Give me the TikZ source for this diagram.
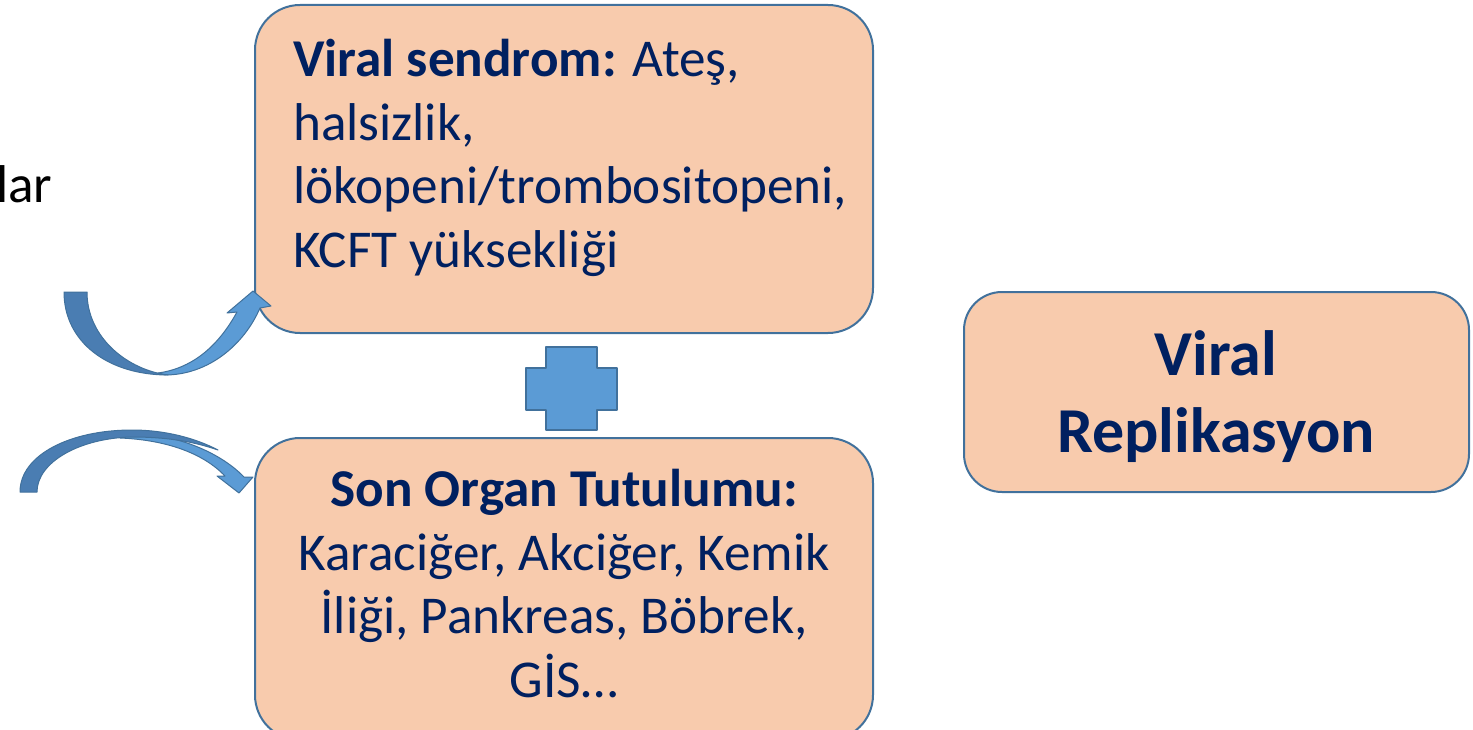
\documentclass[tikz,border=0pt]{standalone}
\usepackage{fontspec}
\setmainfont{Carlito}
\definecolor{boxfill}{HTML}{F8CBAD}
\definecolor{boxline}{HTML}{41719C}
\definecolor{navy}{HTML}{002060}
\definecolor{lightblue}{HTML}{5B9BD5}
\definecolor{darkblue}{HTML}{4A7DB2}
\begin{document}
\begin{tikzpicture}[x=1pt,y=-1pt,
  box/.style={draw=boxline, line width=2pt, fill=boxfill, rounded corners=45pt, inner sep=0pt},
  bodytext/.style={text=navy, font=\fontsize{53.2}{63.5}\selectfont, inner sep=0pt},
  lightpart/.style={fill=lightblue, draw=boxline, line width=1pt, line join=round},
  darkpart/.style={fill=darkblue, draw=boxline, line width=1pt, line join=round}]
\useasboundingbox (0,0) rectangle (1473,730);
% boxes
\node[box, minimum width=618pt, minimum height=328pt] (b1) at (564,169) {};
\node[box, minimum width=618pt, minimum height=302pt] (b2) at (564,589) {};
\node[box, rounded corners=38pt, minimum width=505pt, minimum height=200pt] (b3) at (1216.5,392) {};
% texts
\node[bodytext, anchor=north west, align=left] (t1) at (293,39)
  {\textbf{Viral sendrom:} Ateş,\\halsizlik,\\lökopeni/trombositopeni,\\KCFT yüksekliği};
\node[bodytext, anchor=north, align=center] (t2) at (564,469)
  {\textbf{Son Organ Tutulumu:}\\Karaciğer, Akciğer, Kemik\\İliği, Pankreas, Böbrek,\\GİS…};
\node[text=navy, font=\fontsize{64}{77}\selectfont\bfseries, anchor=north, align=center, inner sep=0pt] (t3) at (1216,330)
  {Viral\\Replikasyon};
\node[text=black, font=\fontsize{53.2}{63.5}\selectfont, anchor=base west, inner sep=0pt] (lar) at (-4,203) {lar};
% plus sign
\draw[lightpart, line width=2pt] (546,347) -- (597,347) -- (597,368) -- (617,368) -- (617,410) -- (597,410)
  -- (597,430) -- (546,430) -- (546,410) -- (526,410) -- (526,368) -- (546,368) -- cycle;
% curved up arrow
\draw[lightpart] (165,375) .. controls (208,375) and (244,345) .. (260,308) -- (271,306) -- (253,291)
  -- (227,313) -- (237,312) .. controls (220,343) and (195,368) .. (158,373) -- cycle;
\draw[darkpart] (64,292) .. controls (64,342) and (108,375) .. (168,375)
  .. controls (128,370) and (87,338) .. (87,292) -- cycle;
% curved down arrow
\draw[lightpart] (120,432) .. controls (170,432) and (218,450) .. (244,477) -- (253,477) -- (239,493)
  -- (217,476) -- (225,476) .. controls (204,454) and (168,440) .. (120,438) -- cycle;
\draw[darkpart] (20,492) .. controls (20,455) and (70,430) .. (132,430)
  .. controls (165,430) and (195,438) .. (218,450)
  .. controls (192,441) and (165,437) .. (132,437)
  .. controls (80,438) and (37,462) .. (37,492) -- cycle;
\end{tikzpicture}
\end{document}
